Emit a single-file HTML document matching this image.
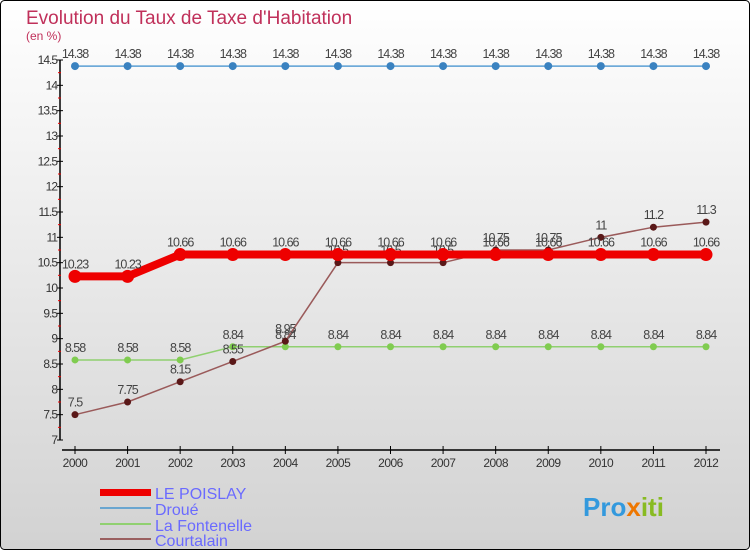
<!DOCTYPE html>
<html><head><meta charset="utf-8"><style>
body{margin:0}
#c{width:750px;height:550px;position:relative;overflow:hidden;font-family:"Liberation Sans",sans-serif}
</style></head><body>
<div id="c">
<svg id="s" width="750" height="550" xmlns="http://www.w3.org/2000/svg">
<defs><linearGradient id="bg" x1="0" y1="0" x2="0" y2="1"><stop offset="0" stop-color="#ffffff"/><stop offset="1" stop-color="#d2d2d2"/></linearGradient></defs>
<rect x="0.5" y="0.5" width="749" height="549" rx="4" fill="url(#bg)" stroke="#000"/>
<text x="26" y="24" font-size="19" fill="#c0305a">Evolution du Taux de Taxe d'Habitation</text>
<text x="26" y="40" font-size="12" fill="#c0305a">(en %)</text>
<g id="g"></g>
<g>
<rect x="100" y="489" width="51" height="7" fill="#ee0000"/>
<text x="155" y="499" font-size="16" fill="#6a6aff">LE POISLAY</text>
<rect x="100" y="507" width="51" height="2" fill="#6aa6d0"/>
<text x="155" y="515" font-size="16" fill="#6a6aff">Droué</text>
<rect x="100" y="523" width="51" height="2" fill="#90d070"/>
<text x="155" y="531" font-size="16" fill="#6a6aff">La Fontenelle</text>
<rect x="100" y="538" width="51" height="2" fill="#9a6060"/>
<text x="155" y="546" font-size="16" fill="#6a6aff">Courtalain</text>
</g>
<text x="583" y="516" font-size="26" font-weight="bold" fill="#3399dd">Pro<tspan fill="#ee7700">x</tspan><tspan fill="#88bb22">iti</tspan></text>
</svg>
</div>
<script>
const years=["2000","2001","2002","2003","2004","2005","2006","2007","2008","2009","2010","2011","2012"];
const yTicks=[7,7.5,8,8.5,9,9.5,10,10.5,11,11.5,12,12.5,13,13.5,14,14.5];
const poislay=[10.23,10.23,10.66,10.66,10.66,10.66,10.66,10.66,10.66,10.66,10.66,10.66,10.66];
const droue=[14.38,14.38,14.38,14.38,14.38,14.38,14.38,14.38,14.38,14.38,14.38,14.38,14.38];
const fontenelle=[8.58,8.58,8.58,8.84,8.84,8.84,8.84,8.84,8.84,8.84,8.84,8.84,8.84];
const courtalain=[7.5,7.75,8.15,8.55,8.95,10.5,10.5,10.5,10.75,10.75,11,11.2,11.3];
const NS="http://www.w3.org/2000/svg",g=document.getElementById('g');
const X=i=>75+i*(706-75)/(years.length-1);
const Y=v=>440-(v-7)*(380/7.5);
function mk(t,a,p){const e=document.createElementNS(NS,t);for(const k in a)e.setAttribute(k,a[k]);(p||g).appendChild(e);return e;}
let ya=mk('line',{x1:60,y1:Y(14.5),x2:60,y2:440,stroke:'#000','stroke-width':1.5});


let xa=mk('line',{x1:62,y1:450,x2:720,y2:450,stroke:'#000','stroke-width':1.5});


yTicks.forEach((t,i)=>{
 mk('line',{x1:57,y1:Y(t),x2:63,y2:Y(t),stroke:'#000'});
 if(i<yTicks.length-1)mk('line',{x1:58,y1:Y(t+0.25),x2:61,y2:Y(t+0.25),stroke:'#e00'});
 const tx=mk('text',{x:57,y:Y(t)+4,'font-size':12,'text-anchor':'end',fill:'#333','letter-spacing':'-1'});
 tx.textContent=String(t);
 
 
});
years.forEach((y,i)=>{
 mk('line',{x1:X(i),y1:446,x2:X(i),y2:454,stroke:'#000'});
 const tx=mk('text',{x:X(i),y:467,'font-size':12,'text-anchor':'middle',fill:'#333','letter-spacing':'-0.5'});
 tx.textContent=y;
 
 
});
function series(name,vals,color,w,r,dot){
 const s=mk('g',{});
 
 
 const pl=mk('polyline',{points:vals.map((v,i)=>X(i)+','+Y(v)).join(' '),fill:'none',stroke:color,'stroke-width':w},s);
 
 
 vals.forEach((v,i)=>{
  const c=mk('circle',{cx:X(i),cy:Y(v),r:r,fill:dot},s);
  
  
  const t=mk('text',{x:X(i),y:Y(v)-8,'font-size':12.5,'text-anchor':'middle',fill:'#444','letter-spacing':'-1'},s);
  t.textContent=String(v);
  
  
 });
}
series('droue',droue,'#5a9fd4',1.5,4,'#3a82c0');
series('la-fontenelle',fontenelle,'#90d070',1.5,3.5,'#80cc50');
series('courtalain',courtalain,'#9a5a5a',1.5,3.5,'#5a1818');
series('le-poislay',poislay,'#ee0000',8,6.5,'#ee0000');
</script>
</body></html>
